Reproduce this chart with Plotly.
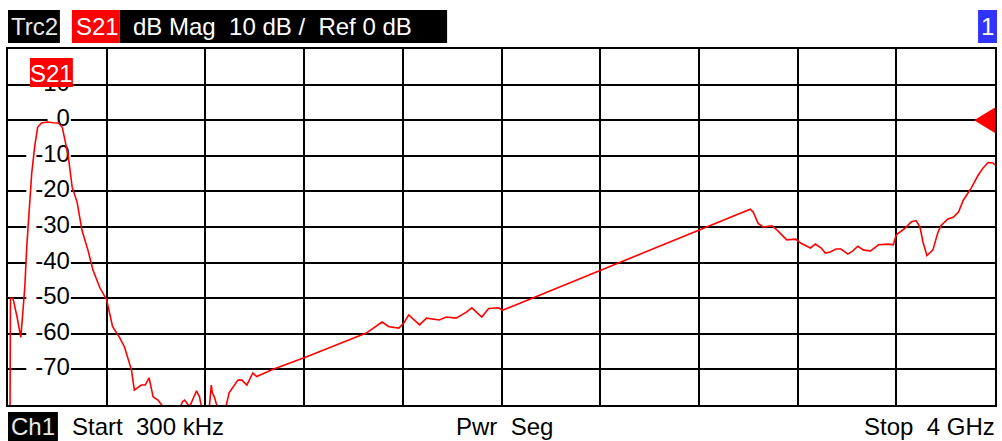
import plotly.graph_objects as go

# S21 trace: sweep position (grid divisions, segmented power sweep) and magnitude in dB
sweep_pos = [
    0.02, 0.025, 0.05, 0.09, 0.13, 0.16, 0.17, 0.19, 0.21, 0.24, 0.27, 0.30, 0.34, 0.40, 0.46,
    0.51, 0.55, 0.58, 0.61, 0.65, 0.70, 0.75, 0.81, 0.86, 0.93, 1.00, 1.06, 1.13, 1.18, 1.25,
    1.28, 1.35, 1.39, 1.43, 1.47, 1.52, 1.57, 1.64, 1.72, 1.77, 1.79, 1.84, 1.91, 1.94, 1.96,
    2.00, 2.04, 2.06, 2.07, 2.09, 2.12, 2.17, 2.21, 2.24, 2.33, 2.37, 2.42, 2.48, 2.52, 2.68,
    3.02, 3.63, 3.79, 3.86, 3.96, 4.01, 4.06, 4.17, 4.24, 4.37, 4.44, 4.54, 4.64, 4.70, 4.80,
    4.87, 4.97, 5.01, 7.52, 7.55, 7.60, 7.65, 7.74, 7.79, 7.89, 7.98, 8.03, 8.13, 8.18, 8.24,
    8.28, 8.33, 8.39, 8.44, 8.51, 8.56, 8.61, 8.67, 8.74, 8.82, 8.92, 8.97, 9.00, 9.09, 9.15,
    9.20, 9.24, 9.27, 9.31, 9.37, 9.42, 9.45, 9.52, 9.58, 9.63, 9.68, 9.76, 9.83, 9.88, 9.93,
    9.98, 10.0,
]
s21_db = [
    -85.0, -50.0, -50.0, -55.0, -61.0, -50.0, -47.0, -35.6, -26.0, -15.0, -7.5, -2.0, -0.8, -0.5, -0.7,
    -0.8, -2.0, -5.6, -10.0, -18.8, -23.0, -31.0, -36.5, -42.0, -47.0, -50.5, -58.0, -61.0, -63.7, -70.0,
    -75.8, -74.4, -74.4, -72.4, -77.7, -78.6, -80.5, -82.0, -82.0, -79.0, -78.6, -80.5, -76.0, -77.7, -80.5,
    -82.0, -80.5, -74.4, -76.5, -77.7, -80.5, -82.0, -80.3, -76.6, -73.0, -73.0, -74.4, -71.0, -72.0, -70.0,
    -66.5, -59.8, -56.7, -58.0, -58.4, -57.0, -54.7, -57.5, -55.6, -56.1, -55.3, -55.6, -54.0, -52.7, -55.3,
    -52.9, -52.7, -53.4, -25.0, -25.8, -29.0, -30.0, -29.7, -30.8, -33.6, -33.4, -34.5, -35.9, -34.8, -35.9,
    -37.3, -37.0, -36.2, -36.2, -37.6, -36.7, -35.4, -36.5, -36.7, -35.0, -34.8, -35.0, -32.2, -30.3, -28.6,
    -28.2, -30.0, -34.2, -38.0, -36.5, -31.7, -29.7, -27.8, -27.2, -25.8, -22.4, -19.0, -15.4, -13.4, -11.9,
    -12.0, -12.6,
]

# Y scale labels drawn inside the diagram
y_tick_vals = [10, 0, -10, -20, -30, -40, -50, -60, -70]
y_tick_text = ["10", "0", "-10", "-20", "-30", "-40", "-50", "-60", "-70"]

ref_level_db = 0
y_range = [-80, 20]
x_range = [0, 10]

W, H = 1002, 441
ML, MR, MT, MB = 8, 5, 49, 36
PW, PH = W - ML - MR, H - MT - MB
FONT = "Arial, Liberation Sans, sans-serif"
FS = 24


def px_x(px):
    return (px - ML) / PW


def px_y(py):
    return (H - MB - py) / PH


def dx(px):
    return (px - ML) / PW * (x_range[1] - x_range[0])


fig = go.Figure()

# scale labels (under the trace)
label_x = dx(70)
fig.add_trace(go.Scatter(
    x=[label_x] * len(y_tick_vals), y=y_tick_vals, mode="text",
    text=y_tick_text, textposition="middle left",
    textfont=dict(family=FONT, size=FS, color="black"),
    hoverinfo="skip", showlegend=False, cliponaxis=False,
))

fig.add_trace(go.Scatter(
    x=sweep_pos, y=s21_db, mode="lines",
    line=dict(color="#ff0000", width=1.6),
    hoverinfo="skip", showlegend=False,
))

shapes = []
# white masks that break the grid lines behind the scale labels
char_w = {"-": 0.333, "0": 0.556, "1": 0.556, "2": 0.556, "3": 0.556, "4": 0.556,
          "5": 0.556, "6": 0.556, "7": 0.556}
for v, t in zip(y_tick_vals, y_tick_text):
    w = sum(char_w[c] for c in t) * FS
    shapes.append(dict(type="rect", xref="x", yref="y", layer="between",
                       x0=dx(70 - w - 9), x1=dx(71), y0=v - 1.3, y1=v + 1.3,
                       fillcolor="white", line=dict(width=0)))

# reference level marker on the right edge
shapes.append(dict(type="path", xref="x", yref="y",
                   path=f"M {dx(976)},{ref_level_db} L {x_range[1]},{ref_level_db + 3.6} "
                        f"L {x_range[1]},{ref_level_db - 3.6} Z",
                   fillcolor="#ff0000", line=dict(width=0)))


def box(x0, x1, y0, y1, color):
    shapes.append(dict(type="rect", xref="paper", yref="paper",
                       x0=px_x(x0), x1=px_x(x1), y0=px_y(y1), y1=px_y(y0),
                       fillcolor=color, line=dict(width=0), layer="above"))


# header boxes
box(8, 60, 10, 43, "black")
box(72, 120, 10, 43, "#ff0000")
box(120, 448, 10, 43, "black")
box(980, 999, 10, 43, "#3333ff")
# in-diagram trace label box
box(30, 73, 58, 87, "#ff0000")
# channel box
box(8, 58, 412, 441, "black")

annotations = []


def label(px, py, text, color, anchor="left"):
    annotations.append(dict(xref="paper", yref="paper", x=px_x(px), y=px_y(py),
                            xanchor=anchor, yanchor="middle", showarrow=False,
                            text=text, borderpad=0,
                            font=dict(family=FONT, size=FS, color=color)))


label(10, 27, "Trc2", "#e8e8e8")
label(75, 27, "S21", "white")
label(132, 27, "dB Mag  10 dB /  Ref 0 dB", "white")
label(989.5, 27, "1", "white", anchor="center")
label(51.5, 73, "S21", "white", anchor="center")
label(10, 426, "Ch1", "#e8e8e8")
label(71, 426, "Start  300 kHz", "black")
label(456, 426, "Pwr  Seg", "black")
label(998, 426, "Stop  4 GHz", "black", anchor="right")

axis_common = dict(showgrid=True, gridcolor="black", gridwidth=2, zeroline=False,
                   showline=True, linecolor="black", linewidth=2, mirror=True,
                   showticklabels=False, ticks="", fixedrange=True)

fig.update_layout(
    width=W, height=H, autosize=False,
    margin=dict(l=ML, r=MR, t=MT, b=MB, pad=0),
    paper_bgcolor="white", plot_bgcolor="white",
    xaxis=dict(range=x_range, dtick=1, tick0=0, **axis_common),
    yaxis=dict(range=y_range, dtick=10, tick0=0, **axis_common),
    shapes=shapes, annotations=annotations,
    showlegend=False,
)

fig.write_html("out.html", config={"displayModeBar": False})
